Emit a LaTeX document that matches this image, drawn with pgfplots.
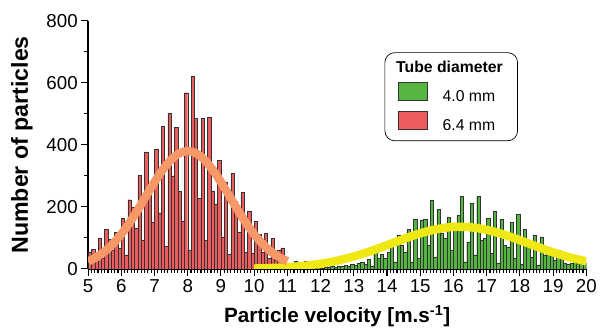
\documentclass[border={8bp 0bp 0bp 11bp}]{standalone}
\usepackage{pgfplots}
\pgfplotsset{compat=1.18}
\usepackage{fontspec}
\setmainfont{Liberation Sans}
\definecolor{redbar}{RGB}{236,92,92}
\definecolor{greenbar}{RGB}{84,182,64}
\definecolor{orangefit}{RGB}{246,152,104}
\definecolor{yellowfit}{RGB}{240,232,20}
\begin{document}
\begin{tikzpicture}
\begin{axis}[
  scale only axis, width=504bp, height=251bp,
  xmin=5, xmax=20, ymin=0, ymax=800,
  axis x line*=bottom, axis y line*=left,
  xtick={5,...,20}, minor x tick num=9,
  ytick={0,200,...,800}, minor y tick num=1,
  tick align=outside, major tick length=7bp, minor tick length=4bp,
  every tick/.style={black, line width=1.1bp},
  axis line style={line width=1.4bp},
  tick label style={font=\fontsize{19}{21}\selectfont},
  /pgf/number format/assume math mode=true,
  xlabel={Particle velocity [m.s\textsuperscript{-1}]},
  ylabel={Number of particles},
  xlabel style={font=\bfseries\fontsize{21}{24}\selectfont, yshift=-6bp},
  ylabel style={font=\bfseries\fontsize{23.5}{26}\selectfont, yshift=7bp},
  legend cell align=left,
  legend image code/.code={\draw[sharp corners,#1] (0bp,-3.5bp) rectangle (30bp,14.5bp); \path (43bp,0bp);},
  legend style={at={(rel axis cs:0.595,0.873)}, anchor=north west,
    draw=black, line width=0.7bp, rounded corners=10bp,
    font=\fontsize{16}{18}\selectfont, row sep=6bp,
    inner xsep=13bp, inner ysep=7bp},
]
\addplot[ybar, bar width=0.1, bar shift=0pt, fill=redbar, draw=black!80, line width=0.4bp, forget plot] coordinates {
(5.05,55) (5.15,64) (5.25,40) (5.35,100) (5.45,34) (5.55,128) (5.65,96) (5.75,60) (5.85,117) (5.95,68)
(6.05,162) (6.15,45) (6.25,223) (6.35,198) (6.45,132) (6.55,302) (6.65,91) (6.75,377) (6.85,238) (6.95,150)
(7.05,387) (7.15,181) (7.25,460) (7.35,72) (7.45,502) (7.55,300) (7.65,457) (7.75,249) (7.85,155) (7.95,568)
(8.05,61) (8.15,621) (8.25,486) (8.35,228) (8.45,486) (8.55,93) (8.65,488) (8.75,252) (8.85,210) (8.95,351)
(9.05,103) (9.15,281) (9.25,47) (9.35,309) (9.45,217) (9.55,117) (9.65,247) (9.75,55) (9.85,186) (9.95,50)
(10.05,154) (10.15,111) (10.25,55) (10.35,114) (10.45,34) (10.55,98) (10.65,29) (10.75,61) (10.85,68) (10.95,20)
};
\addplot[ybar, bar width=0.1, bar shift=0pt, fill=greenbar, draw=black!80, line width=0.4bp, forget plot] coordinates {
(11.25,25) (11.55,25) (11.75,3) (11.95,5)
(12.05,3) (12.15,6) (12.25,4) (12.35,8) (12.45,6) (12.55,10) (12.65,8) (12.75,12) (12.85,10) (12.95,15)
(13.05,12) (13.15,18) (13.25,21) (13.35,14) (13.45,30) (13.55,10) (13.65,55) (13.75,34) (13.85,47) (13.95,34)
(14.05,53) (14.15,76) (14.25,23) (14.35,110) (14.45,76) (14.55,55) (14.65,127) (14.75,23) (14.85,159) (14.95,34)
(15.05,158) (15.15,159) (15.25,76) (15.35,220) (15.45,39) (15.55,193) (15.65,114) (15.75,98) (15.85,167) (15.95,61)
(16.05,140) (16.15,172) (16.25,234) (16.35,23) (16.45,87) (16.55,211) (16.65,45) (16.75,234) (16.85,92) (16.95,98)
(17.05,163) (17.15,50) (17.25,185) (17.35,18) (17.45,159) (17.55,76) (17.65,71) (17.75,151) (17.85,36) (17.95,177)
(18.05,15) (18.15,127) (18.25,92) (18.35,39) (18.45,110) (18.55,13) (18.65,103) (18.75,45) (18.85,66) (18.95,63)
(19.05,29) (19.15,61) (19.25,34) (19.35,18) (19.45,15) (19.55,18) (19.65,34) (19.75,18) (19.85,36) (19.95,18)
};
\addplot[yellowfit, line width=8.5bp, smooth, forget plot] coordinates {
(10.0,1.4) (10.5,2.8) (11.0,5.4) (11.5,9.8) (12.0,16.7) (12.5,26.7) (13.0,40.2) (13.5,57.1)
(14.0,76.5) (14.5,96.4) (15.0,114.6) (15.5,128.3) (16.0,135.4) (16.5,134.5) (17.0,126)
(17.5,111.2) (18.0,92.5) (18.5,72.5) (19.0,53.5) (19.5,37.2) (20.0,24.4)
};
\addplot[orangefit, line width=8.5bp, smooth, forget plot] coordinates {
(5.0,24.4) (5.25,37.8) (5.5,56.4) (5.75,81) (6.0,112) (6.25,149) (6.5,191) (6.75,236) (7.0,280)
(7.25,320) (7.5,352) (7.75,373) (8.0,380) (8.25,373) (8.5,352) (8.75,320) (9.0,280) (9.25,236)
(9.5,191) (9.75,149) (10.0,112) (10.25,81) (10.5,56.4) (10.75,37.8) (11.0,24.4)
};
\addlegendimage{empty legend}
\addlegendentry{\hspace*{-47bp}\textbf{Tube diameter}}
\addlegendimage{fill=greenbar, draw=black!80, line width=0.5bp}
\addlegendentry{4.0 mm}
\addlegendimage{fill=redbar, draw=black!80, line width=0.5bp}
\addlegendentry{6.4 mm}
\end{axis}
\end{tikzpicture}
\end{document}
